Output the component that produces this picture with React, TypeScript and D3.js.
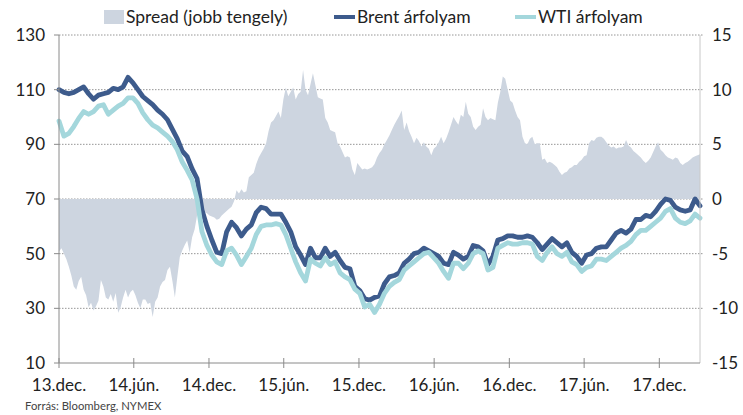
import React from "react";
import * as d3 from "d3";

const W = 743;
const H = 415;

// x-axis tick labels and their dates
const tickLabels = ["13.dec.", "14.jún.", "14.dec.", "15.jún.", "15.dec.", "16.jún.", "16.dec.", "17.jún.", "17.dec."];
const tickDates = ["2013-12-01", "2014-06-01", "2014-12-01", "2015-06-01", "2015-12-01", "2016-06-01", "2016-12-01", "2017-06-01", "2017-12-01"];
const leftTicks = [10, 30, 50, 70, 90, 110, 130];
const rightTicks = [-15, -10, -5, 0, 5, 10, 15];

const startDate = "2013-12-01";
const lineStepDays = 12;
const spreadStepDays = 6;

// Brent price (USD/bbl), one value every 12 days
const brent = [
  110, 109, 108.5, 109, 110, 111, 108.5, 106.5, 108, 108.5,
  109, 110.5, 110, 111, 114.5, 112.5, 110, 107.5, 106, 104.5,
  102.5, 101, 99, 95.5, 92, 87.5, 85.5, 81, 77.5, 66,
  60, 55, 50.5, 50, 58, 61.5, 59.5, 56.5, 59, 60.5,
  65, 67, 66.5, 64.5, 64.5, 64.5, 61.5, 58, 52.5, 49.5,
  46, 52, 48.5, 48.5, 52, 49, 50.5, 47.5, 45, 44.5,
  38, 36.5, 33.5, 33, 34, 34.5, 39, 41.5, 42, 43,
  46.5, 48, 50, 50.5, 52, 51, 50, 49, 46.5, 46,
  50.5, 49.5, 48, 49, 53, 52.5, 51, 46, 49, 55,
  55.5, 56.5, 56.5, 56, 56, 56.5, 56, 54, 51.5, 53.5,
  55.5, 54, 52.5, 54, 50.5, 49, 46.5, 49.5, 50, 52,
  52.5, 52.5, 55, 57.5, 58.5, 57.5, 59, 62.5, 62.5, 64,
  63.5, 65.5, 68, 70, 69.5, 67, 66, 65.5, 66, 70,
  67.5,
];

// WTI price (USD/bbl), one value every 12 days
const wti = [
  98.5, 93, 94, 96.5, 99.5, 102, 101, 102, 104, 104.5,
  101, 102.5, 104, 105, 107, 107, 105, 101.5, 99, 97,
  96, 94.5, 93, 91, 88, 83.5, 80.5, 77, 70, 58,
  53, 49.5, 47, 46, 51, 52, 49.5, 46, 49, 52,
  57, 60, 60.5, 60.5, 61, 60.5, 57, 52, 47, 43,
  40, 48, 46.5, 45.5, 48.5, 46, 47, 43, 41.5, 40.5,
  37, 35.5, 30.5, 31.5, 28.5, 31.5, 35.5, 38, 39.5, 40.5,
  44, 45.5, 47, 48.5, 50, 50.5, 48.5, 46.5, 43.5, 41,
  46.5, 46.5, 44.5, 46.5, 50, 51, 50, 44, 45, 52,
  53, 54, 53.5, 53.5, 54, 54, 53.5, 49, 47.5, 50.5,
  52.5, 50, 49, 50.5, 47, 46, 43.5, 45, 45.5, 48,
  48, 47.5, 49, 50.5, 52, 53, 54.5, 57, 58.5, 58.5,
  60, 61.5, 63, 65.5, 66.5, 63, 61.5, 61, 62, 64.5,
  63,
];

// Spread (right axis), one value every 6 days
const spread = [
  -4.8, -4.5, -5, -5.5, -6.2, -7, -8, -8.3, -7.5, -7.1,
  -8.3, -8.8, -9.9, -9.5, -10.2, -9.8, -9.3, -7.4, -8, -9,
  -9.2, -8.7, -9.4, -8.6, -10.4, -9.9, -9, -8.3, -9, -8.5,
  -8.3, -8.8, -9.5, -10, -9.2, -9.2, -9.6, -9.5, -10.8, -9.4,
  -9, -8, -7.6, -7.4, -6.5, -6.2, -7.5, -9, -7.1, -5.3,
  -4.7, -4.2, -3.8, -4.9, -3.5, -2.8, -1.5, -1, -1.1, -1.2,
  -1.3, -1.5, -1.6, -1.7, -1.9, -1.8, -1.5, -1.3, -1.1, -0.9,
  -0.7, -0.2, 0.8, 0.5, 0.9, 0.6, 0.7, 2, 2.2, 2.4,
  3.2, 3.8, 4.2, 4.6, 5.1, 6.2, 7, 7.2, 7.6, 8,
  7.4, 9.1, 10.2, 9.4, 9.8, 10.2, 9.1, 9.6, 9.8, 11.8,
  10, 9.5, 10.5, 11.5, 10.4, 9.3, 9.2, 9.1, 7.4, 7,
  6.3, 6.2, 6.1, 5.1, 4.8, 4.3, 3.8, 3.9, 3.8, 2.7,
  2.2, 3.3, 3, 2.7, 2.8, 2.7, 2.8, 2.9, 3.2, 3.8,
  4.2, 4.5, 5, 5.4, 5.8, 6.3, 6.8, 7.2, 7.6, 8.1,
  6.3, 7, 6.2, 5.7, 5.1, 5.6, 5.3, 4.8, 5.2, 4.8,
  4.6, 4, 4.6, 4.8, 5.2, 5.7, 5.1, 5.5, 6.1, 6.8,
  7.5, 7.1, 6.8, 7.7, 7.5, 8.9, 7.8, 7.5, 6.6, 6.3,
  6.6, 6.8, 8.3, 7.5, 7.2, 7.4, 7.3, 7.2, 8.8, 9.8,
  11.2, 11, 10, 9, 8.8, 8.1, 7.5, 7.2, 5.7, 5.1,
  5, 5.5, 5.7, 5, 5.1, 5.1, 3.6, 3.7, 3.3, 3.4,
  3.3, 3.1, 2.9, 2.5, 2.2, 2.4, 2.5, 2.8, 2.9, 3.1,
  3.1, 3.4, 3.6, 3.9, 4, 5.1, 5.4, 5.3, 5.6, 5.7,
  5.7, 5.5, 5.2, 4.9, 4.7, 4.8, 4.6, 4.7, 4.7, 4.8,
  5.4, 4.9, 4.7, 4.4, 4.2, 4, 3.8, 3.5, 3.3, 3.5,
  3.8, 4.3, 4.8, 5.2, 4.5, 4.3, 4, 3.8, 3.7, 3.6,
  3.8, 3.7, 3.3, 3.1, 3.3, 3.4, 3.6, 3.8, 3.9, 4, 4.1,
];

const legendLabels = ["Spread (jobb tengely)", "Brent árfolyam", "WTI árfolyam"];
const sourceText = "Forrás: Bloomberg, NYMEX";

const COL_BRENT = "#3d5b8c";
const COL_WTI = "#a4d7dc";
const COL_SPREAD = "#cdd5e0";
const FONT = "Lato, 'Open Sans', sans-serif";

export default function App() {
  const parse = d3.timeParse("%Y-%m-%d");
  const start = parse(startDate) as Date;
  const end = d3.timeDay.offset(start, lineStepDays * (brent.length - 1));

  const left = 59, right = 700, top = 35, bottom = 363;
  const x = d3.scaleTime().domain([start, end]).range([left, right]);
  const yL = d3.scaleLinear().domain([10, 130]).range([bottom, top]);
  const yR = d3.scaleLinear().domain([-15, 15]).range([bottom, top]);

  const brentPts = brent.map((v, i) => ({ d: d3.timeDay.offset(start, i * lineStepDays), v }));
  const wtiPts = wti.map((v, i) => ({ d: d3.timeDay.offset(start, i * lineStepDays), v }));
  const spreadPts = spread.map((v, i) => ({ d: d3.timeDay.offset(start, i * spreadStepDays), v }));

  const line = d3.line<{ d: Date; v: number }>().x((p) => x(p.d)).y((p) => yL(p.v));
  const area = d3
    .area<{ d: Date; v: number }>()
    .x((p) => x(p.d))
    .y0(yR(0))
    .y1((p) => yR(p.v));

  return (
    <svg
      width={W}
      height={H}
      style={{ position: "absolute", left: 0, top: 0, background: "#fff" }}
      fontFamily={FONT}
    >
      {/* gridlines */}
      {leftTicks.filter((t) => t !== 10).map((t) => (
        <line key={t} x1={left} x2={right + 4} y1={yL(t)} y2={yL(t)} stroke="#8a8a8a" strokeWidth={0.9} strokeDasharray="1.5,1.5" />
      ))}
      {/* spread area */}
      <path d={area(spreadPts) || ""} fill={COL_SPREAD} />
      {/* lines */}
      <path d={line(brentPts) || ""} fill="none" stroke={COL_BRENT} strokeWidth={4.8} strokeLinejoin="round" strokeLinecap="round" />
      <path d={line(wtiPts) || ""} fill="none" stroke={COL_WTI} strokeWidth={4.8} strokeLinejoin="round" strokeLinecap="round" />

      {/* axes */}
      <line x1={right} x2={right} y1={top} y2={bottom} stroke="#c8c8c8" strokeWidth={1} />
      <line x1={left} x2={left} y1={top} y2={bottom} stroke="#8a8a8a" strokeWidth={1} />
      <line x1={left} x2={right} y1={bottom} y2={bottom} stroke="#8a8a8a" strokeWidth={1} />
      {leftTicks.map((t) => (
        <g key={"l" + t}>
          <line x1={left - 5} x2={left} y1={yL(t)} y2={yL(t)} stroke="#8a8a8a" />
          <text x={45} y={yL(t)} dy="0.35em" textAnchor="end" fontSize={17} fill="#222">{t}</text>
        </g>
      ))}
      {rightTicks.map((t) => (
        <text key={"r" + t} x={712} y={yR(t)} dy="0.35em" textAnchor="start" fontSize={17} fill="#222">{t}</text>
      ))}
      {tickDates.map((s, i) => {
        const xx = x(parse(s) as Date);
        return (
          <g key={s}>
            <line x1={xx} x2={xx} y1={bottom - 5} y2={bottom + 5} stroke="#8a8a8a" />
            <text x={xx} y={391} textAnchor="middle" fontSize={17} fill="#222">{tickLabels[i]}</text>
          </g>
        );
      })}

      {/* legend */}
      <rect x={104} y={10} width={20} height={14} fill={COL_SPREAD} />
      <text x={126} y={23} fontSize={17.5} fill="#222">{legendLabels[0]}</text>
      <line x1={334} x2={355} y1={17} y2={17} stroke={COL_BRENT} strokeWidth={4} />
      <text x={357} y={23} fontSize={17.5} fill="#222">{legendLabels[1]}</text>
      <line x1={515} x2={536} y1={17} y2={17} stroke={COL_WTI} strokeWidth={4} />
      <text x={538} y={23} fontSize={17.5} fill="#222">{legendLabels[2]}</text>

      {/* source */}
      <text x={25} y={410} fontSize={11.3} fill="#444">{sourceText}</text>
    </svg>
  );
}
